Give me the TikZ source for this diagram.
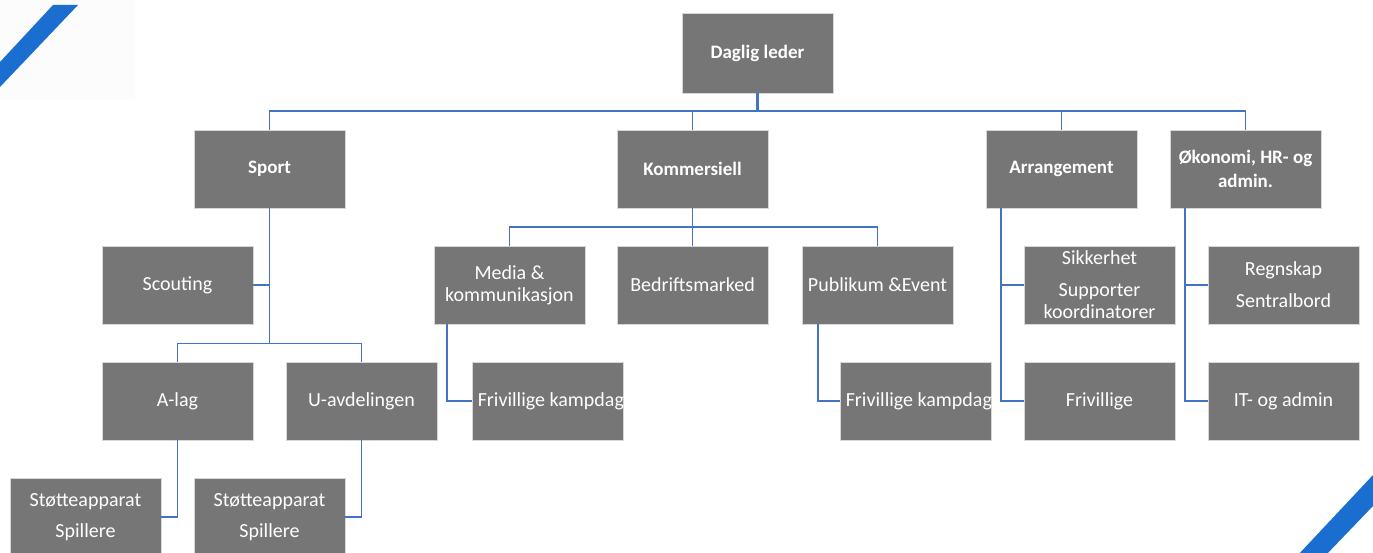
\documentclass[tikz,border=0pt]{standalone}
\usepackage{fontspec}
\setmainfont{Carlito}
\usetikzlibrary{calc}
\definecolor{boxgray}{RGB}{118,118,118}
\definecolor{boxedge}{RGB}{215,215,215}
\definecolor{linkblue}{RGB}{68,114,196}
\definecolor{stripeblue}{RGB}{26,110,208}
\definecolor{faintbg}{RGB}{252,252,252}
\begin{document}
\begin{tikzpicture}[x=1pt,y=-1pt,
  orgbox/.style={fill=boxgray, draw=boxedge, line width=0.8pt, minimum width=151pt, minimum height=78pt, inner sep=2pt, text=white, font=\fontsize{20}{22}\selectfont, align=center},
  headbox/.style={orgbox, font=\fontsize{19}{24}\selectfont\bfseries},
  plaintext/.style={text=white, font=\fontsize{20}{22}\selectfont, inner sep=0pt},
  conn/.style={draw=linkblue, line width=1.8pt},
  topconn/.style={draw=linkblue, line width=2.8pt},
  stripe/.style={fill=stripeblue}]
\useasboundingbox (0,0) rectangle (1373,553);
\clip (0,0) rectangle (1373,553);
% corner decorations
\fill[faintbg] (0,0) rectangle (135,100);
\fill[stripe] (53,5) -- (78,5) -- (0,87) -- (0,62) -- cycle;
\fill[stripe] (1297,556) -- (1325,556) -- (1373,506) -- (1373,475) -- cycle;

% level 0
\node[headbox, minimum height=80pt] (dl) at (757.5,53) {Daglig leder};
% level 1
\node[headbox] (sport) at (269.5,169) {Sport};
\node[headbox] (komm) at (692.5,169) {Kommersiell};
\node[headbox] (arr) at (1061.5,169) {Arrangement};
\node[headbox] (oko) at (1245.5,169) {Økonomi, HR- og\\admin.};
% level 2
\node[orgbox] (scout) at (177.5,285) {Scouting};
\node[orgbox] (media) at (509.5,285) {Media \&\\kommunikasjon};
\node[orgbox] (bedr) at (692.5,285) {Bedriftsmarked};
\node[orgbox] (publ) at (877.5,285) {Publikum \&Event};
\node[orgbox] (sikk) at (1099.5,285) {Sikkerhet\\[10pt]Supporter\\koordinatorer};
\node[orgbox] (regn) at (1283.5,285) {Regnskap\\[10pt]Sentralbord};
% level 3
\node[orgbox] (alag) at (177.5,401) {A-lag};
\node[orgbox] (uavd) at (361.5,401) {U-avdelingen};
\node[orgbox] (friv1) at (547.5,401) {};
\node[orgbox] (friv2) at (915.5,401) {};
\node[orgbox] (frivA) at (1099.5,401) {Frivillige};
\node[orgbox] (it) at (1283.5,401) {IT- og admin};
% level 4
\node[orgbox] (st1) at (85.5,517) {Støtteapparat\\[9pt]Spillere};
\node[orgbox] (st2) at (269.5,517) {Støtteapparat\\[9pt]Spillere};

% clipped labels
\begin{scope}
\clip (friv1.south west) rectangle (friv1.north east);
\node[plaintext, anchor=west] (friv1t) at ($(friv1.west)+(6,0)$) {Frivillige kampdag};
\end{scope}
\begin{scope}
\clip (friv2.south west) rectangle (friv2.north east);
\node[plaintext, anchor=west] (friv2t) at ($(friv2.west)+(6,0)$) {Frivillige kampdag};
\end{scope}

% connectors
\draw[topconn] (dl.south) -- ++(0,18) coordinate (bar);
\draw[conn] (bar) -| (sport.north);
\draw[conn] (bar) -| (komm.north);
\draw[conn] (bar) -| (arr.north);
\draw[conn] (bar) -| (oko.north);

\draw[conn] (sport.south) -- ++(0,135) coordinate (sbar);
\draw[conn] (sport.south) |- (scout.east);
\draw[conn] (sbar) -| (alag.north);
\draw[conn] (sbar) -| (uavd.north);
\draw[conn] (alag.south) |- (st1.east);
\draw[conn] (uavd.south) |- (st2.east);

\draw[conn] (komm.south) -- (bedr.north);
\draw[conn] (komm.south) ++(0,19) coordinate (kbar);
\draw[conn] (kbar) -| (media.north);
\draw[conn] (kbar) -| (publ.north);
\draw[conn] (media.south west) ++(13,0) |- (friv1.west);
\draw[conn] (publ.south west) ++(16,0) |- (friv2.west);

\draw[conn] (arr.south west) ++(15,0) |- (frivA.west);
\draw[conn] (arr.south west) ++(15,0) |- (sikk.west);
\draw[conn] (oko.south west) ++(15,0) |- (it.west);
\draw[conn] (oko.south west) ++(15,0) |- (regn.west);
\end{tikzpicture}
\end{document}
